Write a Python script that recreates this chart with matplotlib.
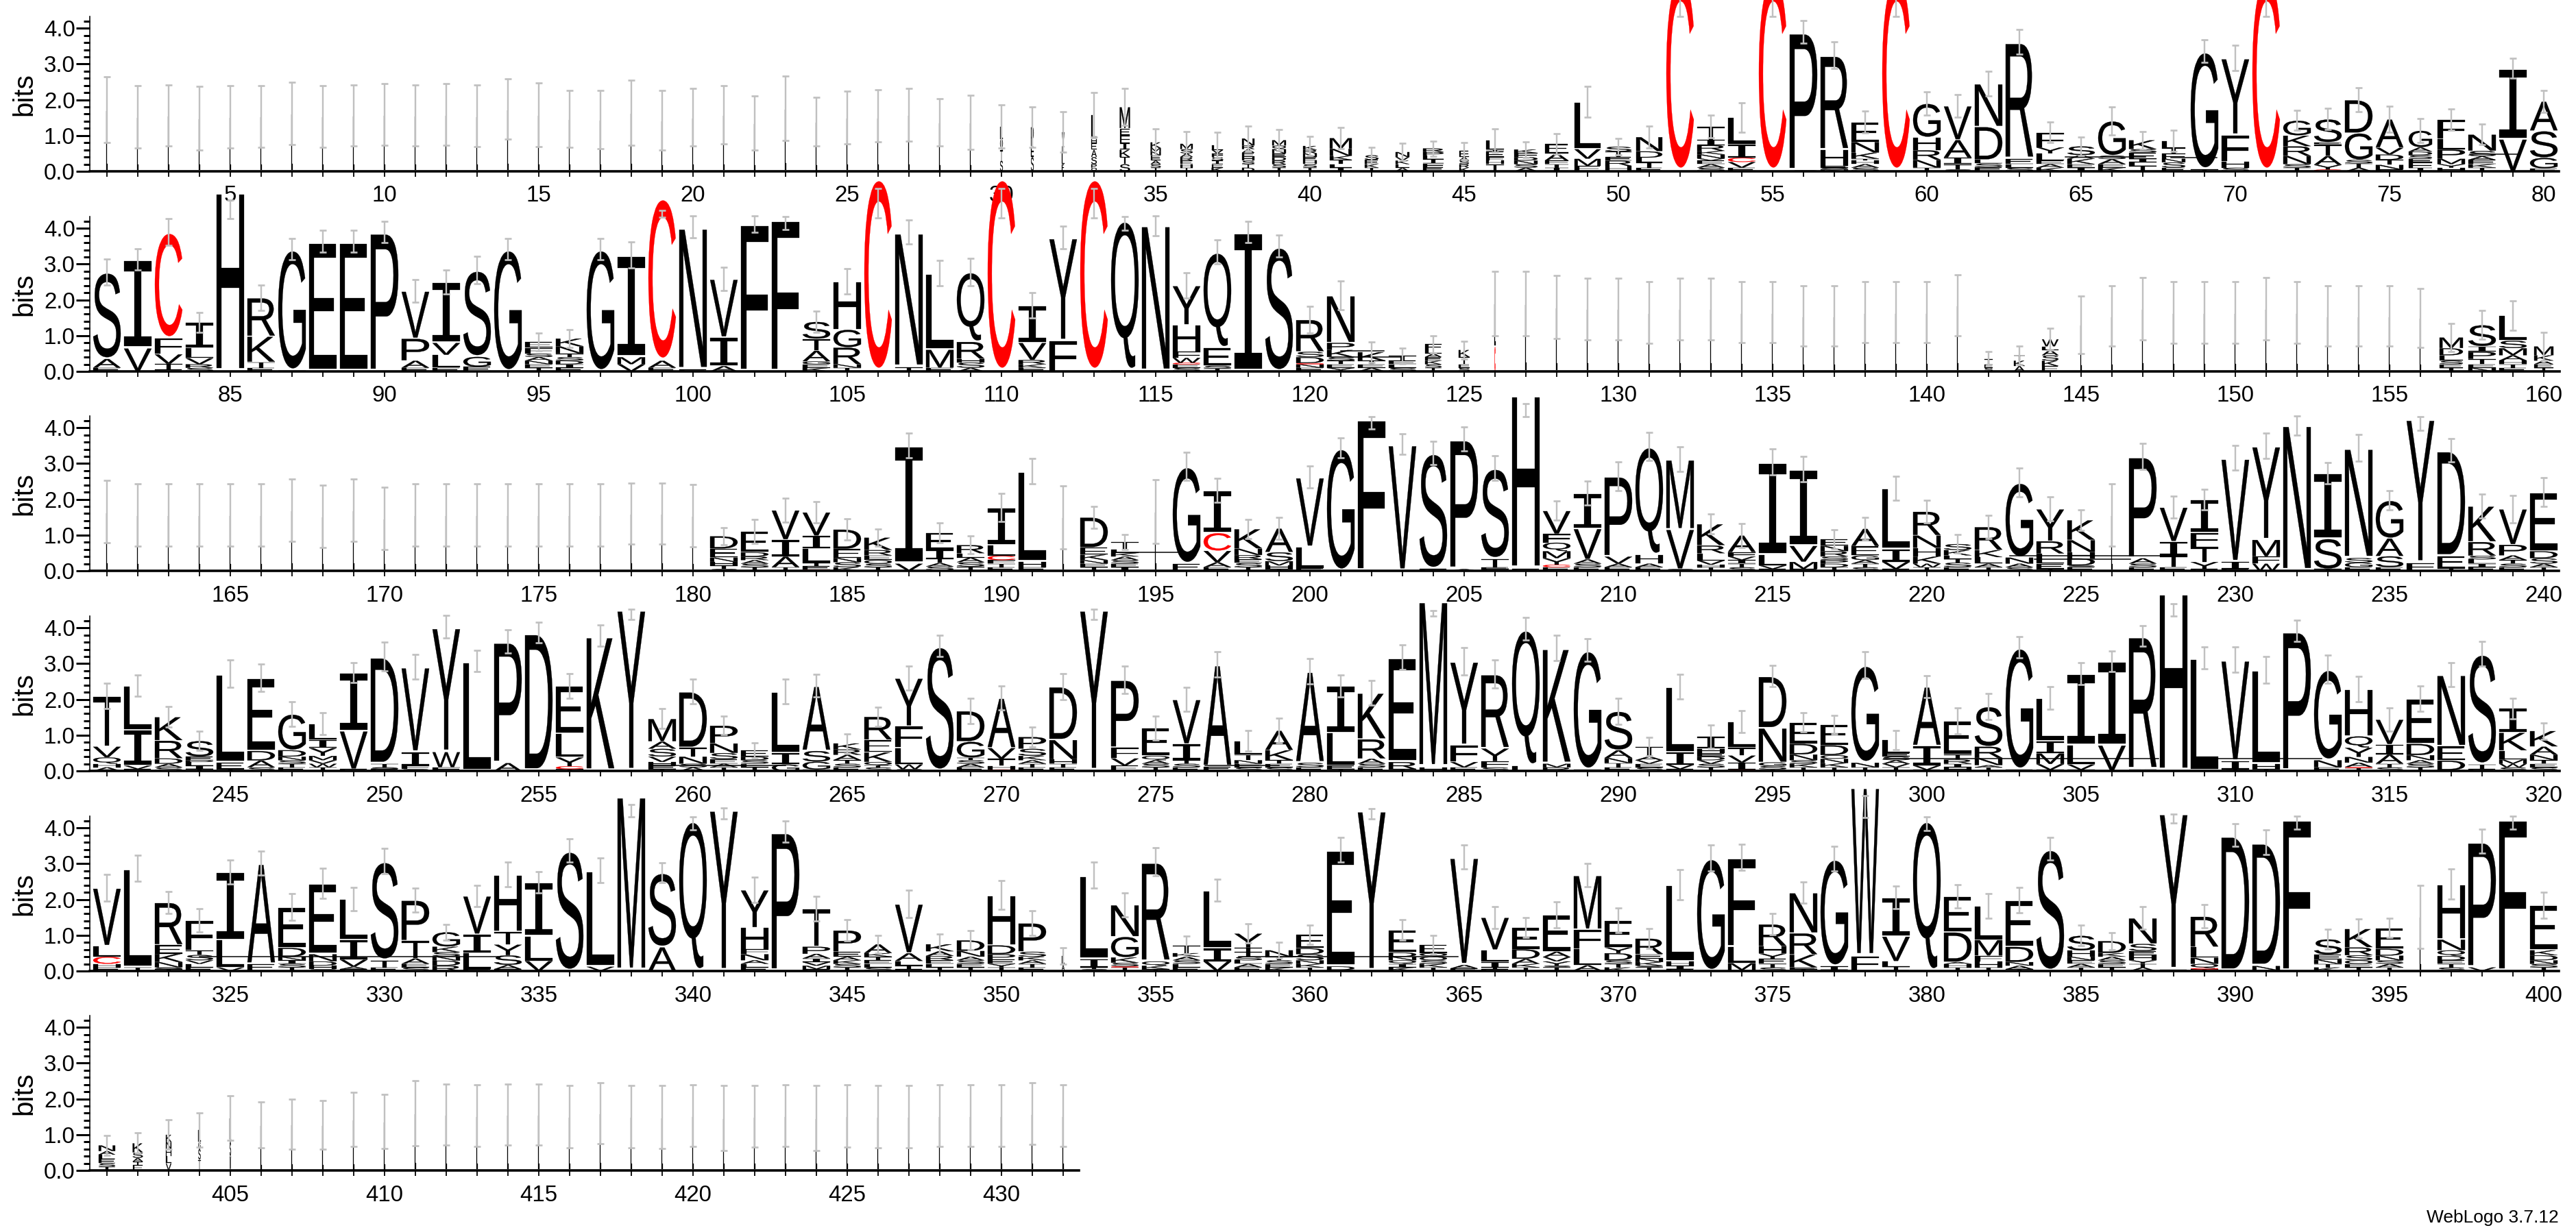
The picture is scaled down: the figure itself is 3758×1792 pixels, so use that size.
import matplotlib
matplotlib.use('Agg')
import matplotlib.pyplot as plt
from matplotlib.font_manager import FontProperties
from matplotlib.patches import PathPatch
from matplotlib.textpath import TextPath
from matplotlib.transforms import Affine2D

plt.rcParams['font.family'] = ['Liberation Sans', 'DejaVu Sans']

# ===== DATA: each stack is written bottom to top, letter + height in bits =====
stacks_1 = [
    'L1.72', 'L1.52', 'L1.56', 'L1.49', 'L1.52', 'L1.54', 'L1.62', 'L1.54', 'L1.56', 'L1.59',
    'L1.56', 'L1.59', 'L1.55', 'L1.74', 'L1.58', 'L1.47', 'L1.45', 'L1.64', 'L1.43', 'L1.51',
    'L1.58', 'L1.35', 'L1.76', 'L1.39', 'L1.51', 'L1.5 C.05', 'L1.58', 'L1.37', 'L1.37', 'S.3 T.3 Q.3 L.36',
    'S.4 E.3 P.54', 'E.2 L.3 K.2 V.4', 'Q.1 P.1 S.2 A.2 E.2 H.1 L.68', 'S.2 T.2 K.2 I.2 F.2 E.2 M.6',
    'T.1 S.1 A.1 E.15 N.1 M.1 K.16', 'T.1 H.1 E.1 R.1 A.1 S.12 M.15', 'K.1 E.1 I.1 S.1 F.1 V.1 L.14',
    'D.1 T.1 S.1 H.1 E.12 A.1 R.1 N.2', 'T.1 S.1 R.1 D.1 E.1 N.12 Q.1 M.15', 'T.1 S.1 H.1 E.1 N.1 R.1 K.11',
    'I.1 L.1 T.12 K.11 N.2 M.3', 'T.1 K.1 E.12 S.13', 'A.1 L.1 K.1 V.1 N.14', 'E.12 F.1 I.12 L.1 P.1 R.1',
    'K.1 R.1 S.1 A.1 E.17', 'T.2 H.1 F.1 E.15 I.05 L.26', 'A.1 S.1 N.1 D.1 F.11 K.1', 'I.1 T.1 F.1 A.2 E.27',
    'E.15 M.2 V.27 L1.33', 'H.15 R.15 E.1 T.15 S.14',
    'E.1 T.15 L.13 D.18 N.4', 'C5.42', 'S.1 A.1 E.1 V.06 N.11 K.1 R.16 I.15 T.37', 'E.1 V.16 C.12 I.38 L.75',
    'C5.42', 'E.02 P3.88', 'N.05 S.05 E.05 H.45 R2.65', 'S.1 A.1 H.1 T.05 K.17 N.3 E.56', 'C5.42',
    'T.1 N.22 R.27 H.36 G.95',
    'S.05 T.15 I.18 A.5 V.95', 'E.12 S.1 L.1 D.93 N1.2', 'S.1 L.1 E.15 R3.27', 'K.1 A.1 E.1 L.2 Y.17 F.42',
    'I.1 E.1 K.15 A.1 S.25', 'K.1 E.1 A.14 S.1 G.97', 'T.15 L.1 I.1 E.17 S.1 K.25', 'E.1 S.15 N.1 F.15 T.15 L.2',
    'T.05 G3.31', 'S.1 H.18 F.74 Y2.15',
    'C5.42', 'T.1 S.1 N.23 R.27 K.3 G.42', 'C.05 Y.13 A.25 T.33 E.05 S.65', 'A.1 T.12 S.1 G.75 D.93',
    'E.05 N.13 T.14 D.15 V.19 A.8', 'I.1 F.15 E.1 S.1 D.1 A.12 G.47', 'H.1 Y.1 M.15 P.26 L.3 F.53',
    'T.1 K.1 E.12 A.1 S.15 N.46', 'V.9 I1.98', 'E.08 G.3 S.75 A.83',
]
errs_1 = [
    .92, .87, .85, .89, .87, .86, .87, .86, .85, .86,
    .85, .86, .86, .84, .89, .8, .81, .91, .83, .8,
    .82, .76, .9, .68, .74, .73, .74, .66, .76, .6,
    .57, .57, .62, .52, .38, .35, .35, .34, .29, .26,
    .29, .22, .24, .21, .24, .32, .22, .29, .43, .23,
    .31, .38, .32, .41, .38, .31, .37, .31, .38, .32,
    .31, .35, .34, .28, .25, .4, .25, .3, .31, .35,
    .38, .28, .3, .34, .36, .33, .3, .29, .28, .31,
]

stacks_2 = [
    'E.1 A.25 S2.43', 'V.65 I2.48', 'E.05 T.16 V.27 F.45 C2.97', 'S.1 R.1 V.17 L.28 I.72', 'H5.04',
    'E.1 T.16 K.72 R1.08', 'T.02 G3.4', 'E3.64', 'E3.64', 'P3.9',
    'E.1 A.2 P.62 V1.33', 'E.1 L.36 V.34 I1.7', 'E.13 G.28 S2.42', 'G3.42', 'T.1 E.1 N.1 A.1 S.1 F.16 E.17',
    'E.1 I.1 D.1 S.1 T.1 N.2 K.22', 'G3.42', 'V.2 M.2 I2.86', 'E.1 A.2 C4.57', 'E.05 N3.99',
    'A.15 I.8 V1.64', 'F4.15', 'F4.27', 'K.1 E.1 G.08 A.3 T.33 S.48', 'T.1 N.1 R.47 G.5 H1.35',
    'C5.42', 'T.12 N3.78', 'E.1 M.51 L2.14', 'A.1 S.15 H.1 R.48 Q1.95', 'C5.42',
    'E.1 K.1 R.12 V.48 I1.05', 'F.86 Y2.89', 'C5.42', 'T.02 Q4.22', 'N4.11',
    'S.1 E.1 C.04 W.14 F.17 H.75 Y1.1', 'T.08 S.08 E.5 Q2.68', 'I3.9', 'S3.5', 'E.1 N.1 C.03 D.17 S.15 R.9',
    'Y.1 E.1 T.1 S.1 K.2 P.2 N1.32', 'A.1 E.1 T.1 K.24', 'S.1 L.1 E.1 T.14', 'T.1 S.1 K.1 E.1 A.1 L.1 F.16', 'S.1 E.1 T.2 K.2',
    'C.7 L1.2', 'L1.9', 'L1.8', 'L1.75', 'L1.75',
    'L1.65', 'L1.75', 'L1.75', 'L1.65', 'L1.65',
    'L1.55', 'L1.55', 'L1.65', 'L1.65', 'L1.65',
    'L1.85', 'S.1 E.1 T.15', 'A.15 K.15 T.15', 'E.15 K.15 S.15 A.15 L.1 W.2', 'L1.3',
    'L1.55', 'L1.75', 'L1.65', 'L1.65', 'L1.65',
    'L1.75', 'L1.65', 'L1.55', 'L1.55', 'L1.55',
    'L1.5', 'T.1 E.1 S.1 L.15 D.2 M.3', 'N.1 E.1 T.15 P.2 I.15 S.6', 'E.1 T.1 H.1 A.15 M.2 S.21 L.7', 'T.1 E.1 A.1 K.15 M.25',
]
errs_2 = [
    .37, .3, .38, .28, .26, .35, .3, .3, .3, .3,
    .31, .33, .38, .3, .25, .25, .3, .37, .1, .31,
    .32, .23, .18, .29, .35, .41, .33, .36, .38, .41,
    .35, .32, .41, .19, .27, .35, .34, .3, .31, .37,
    .4, .29, .22, .24, .25, .9, .9, .88, .86, .86,
    .86, .86, .86, .85, .85, .85, .85, .85, .85, .85,
    .85, .2, .25, .3, .8, .85, .87, .86, .86, .86,
    .87, .86, .85, .85, .85, .82, .4, .4, .42, .4,
]

stacks_3 = [
    'L1.65', 'L1.56', 'L1.56', 'L1.56', 'L1.56', 'L1.56', 'L1.7', 'L1.53', 'L1.7', 'L1.47',
    'L1.56', 'L1.56', 'L1.56', 'L1.56', 'L1.56', 'L1.56', 'L1.56', 'L1.6', 'L1.6', 'L1.55',
    'S.05 T.1 H.1 N.12 E.25 D.35', 'T.1 S.1 A.1 R.1 D.12 E.58', 'T.1 A.3 I.47 V.83', 'C.03 E.1 T.1 L.4 I.35 V.66',
    'K.1 S.14 N.12 E.25 D.55', 'T.1 S.1 O.1 E.13 R.15 K.35', 'V.2 I3.31', 'C.02 S.1 A.1 T.12 I.25 E.48',
    'T.12 S.12 A.13 L.12 R.23', 'E.1 T.1 F.1 C.12 L.3 I1.05',
    'E.1 H.15 L2.54', 'L1.5', 'T.1 E.1 N.1 K.15 E.2 D.85', 'I.1 E.1 S.1 A.1 K.1 L.1 T.21', 'L1.66',
    'E.2 G2.72', 'E.1 A.14 V.32 C.5 I1.19', 'T.1 S.12 E.1 R.12 N.18 K.55', 'T.05 H.1 M.12 S.25 A.67', 'E.07 L.6 V1.95',
    'G3.44', 'F4.26', 'V3.55', 'E.05 S3.25', 'A.05 P3.64',
    'F.05 E.05 T.24 S2.53', 'E.05 H4.9', 'E.1 C.07 Y.18 M.2 Q.24 F.24 V.65', 'E.1 S.1 A.12 V.86 I.99', 'E.1 A.1 V.2 P2.25',
    'E.1 A.1 H.25 Q3.03', 'S.05 V1.11 M1.96', 'T.1 H.07 V.12 L.2 R.22 K.6', 'S.1 T.1 I.1 V.1 F.12 A.47', 'E.05 V.1 L.3 I2.6',
    'E.05 M.2 V.45 I2.14', 'T.1 D.1 P.1 S.1 R.15 N.15 E.18', 'S.1 T.1 A.1 G.13 E.26 A.49', 'E.05 V.2 I.36 L1.7', 'T.1 W.1 K.2 H.24 N.35 R.67',
    'E.1 S.13 T.1 L.1 K.15 S.17', 'T.1 A.1 L.18 K.2 R.65', 'S.1 A.1 N.17 G2.1', 'T.05 E.15 L.28 R.35 Y.9', 'E.1 S.05 D.2 H.17 N.34 K.56',
    'L1.56', 'E.1 S.1 A.15 P2.85', 'E.1 T.32 I.4 V.96', 'E.05 Y.2 T.42 F.4 I.92', 'E.05 I.2 V2.91',
    'W.2 F.2 M.47 Y2.63', 'N4.1', 'T.05 S.85 I1.83', 'E.1 G.13 S.13 N3.08', 'E.1 S.31 A.5 G1.06',
    'F.22 Y4.05', 'T.07 E.34 D2.96', 'E.1 I.1 L.12 S.1 R.39 K1.0', 'E.1 S.1 T.1 A.13 P.3 V1.0', 'T.1 A.1 S.15 D.2 E1.65',
]
errs_3 = [
    .87, .87, .87, .87, .87, .87, .87, .87, .87, .87,
    .87, .87, .87, .87, .87, .87, .87, .86, .86, .87,
    .24, .33, .34, .29, .29, .24, .34, .28, .25, .39,
    .35, .88, .31, .21, .89, .39, .34, .27, .3, .31,
    .28, .17, .29, .33, .33, .34, .18, .27, .33, .4,
    .39, .34, .28, .34, .36, .35, .26, .32, .34, .31,
    .26, .33, .41, .34, .29, .87, .37, .3, .29, .34,
    .36, .26, .29, .37, .27, .19, .33, .34, .38, .4,
]

stacks_4 = [
    'A.1 H.1 Q.18 V.3 T1.42', 'E.05 V.1 I1.0 L1.23', 'S.1 A.1 D.15 R.5 K.66', 'T.05 I.1 L.1 D.05 E.1 S.44', 'T.05 E.18 L2.49',
    'S.1 A.19 D.27 E2.04', 'E.1 T.1 S.1 N.1 D.18 G1.01', 'T.1 W.1 V.1 M.12 Y.22 I.23 L.45', 'E.05 V1.07 I1.63', 'E.05 S.05 T.1 D3.0',
    'S.05 F.1 I.38 V2.38', 'F.1 W.43 Y3.5', 'L3.07', 'A.22 P3.4', 'D3.87',
    'T.05 C.08 Y.25 L.67 E1.33', 'K3.78', 'Y4.54', 'T.05 E.1 H.1 V.15 S.22 A.2 M.64', 'A.1 S.1 N.2 T.25 D1.57',
    'T.1 A.1 E.13 S.17 N.27 P.5', 'T.1 L.1 S.1 D.1 E.17', 'G.18 I.33 L1.71', 'T.04 G.22 S.3 A1.82', 'E.1 S.1 T.1 A.15 R.15 K.17',
    'S.1 T.05 Q.1 K.27 E.35 R.65', 'S.05 W.13 L.47 F.6 Y1.35', 'S3.5', 'E.1 A.1 S.1 T.07 G.45 D.86', 'C.04 H.1 T.2 V.3 A1.4',
    'E.1 T.1 A.1 K.12 S.2 P.33', 'E.1 T.1 H.12 N.55 D1.49', 'Y4.54', 'E.15 V.2 F.3 P1.9', 'T.1 S.1 A.1 Q.12 E.78',
    'E.1 S.1 T.1 I.45 V1.25', 'E.12 A2.86', 'S.1 E.1 N.1 T.15 L.39', 'S.1 E.1 T.1 K.28 A.55', 'E.1 S.13 A2.56',
    'T.05 E.1 L.92 I1.31', 'E.1 S.1 A.14 R.55 K1.29', 'T.05 R.2 E2.93', 'H.1 M4.68', 'E.1 V.15 F.47 Y2.35',
    'S.1 F.17 Y.36 R2.08', 'L.14 Q3.83', 'R.1 M.1 K3.24', 'T.03 G3.35', 'E.1 T.12 N.14 A.22 S1.09',
    'S.1 E.1 V.1 A.1 T.28', 'E.05 V.12 I.35 L1.84', 'T.1 S.1 V.1 D.1 E.1 H.12 I.34', 'C.03 I.2 V.2 T.22 L.73', 'T.04 S.1 G.1 N.96 D1.45',
    'T.1 K.1 S.1 N.16 D.3 E.6', 'T.1 K.12 N.12 O.1 D.28 E.58', 'T.1 N.13 G2.73', 'T.1 V.1 A.1 S.1 E.1 L.36', 'E.03 V.12 I.55 A1.66',
    'H.1 I.1 R.12 T.14 E.94', 'T.1 A.06 N.2 R.32 S1.12', 'E.03 G3.43', 'T.03 V.16 M.3 I.34 L1.21', 'T.03 V.15 L.54 I2.0',
    'V.72 I2.35', 'T.04 R3.74', 'H5.0', 'L3.16', 'E.02 T.03 I.22 V2.84',
    'T.05 H.15 L2.63', 'P3.92', 'E.1 N.2 G2.54', 'T.08 C.03 A.12 N.16 Y.26 Q.32 H1.32', 'S.1 T.1 A.26 I.28 V.7',
    'T.1 S.1 A.1 N.14 D.32 E1.26', 'T.02 D.27 E.4 N2.0', 'E.05 T.13 S3.1', 'S.1 W.1 M.12 L.25 K.5 I.68', 'S.1 E.1 T.1 N.15 A.23 K.44',
]
errs_4 = [
    .36, .3, .29, .27, .38, .38, .35, .3, .28, .4,
    .34, .32, .3, .33, .29, .34, .3, .15, .28, .35,
    .26, .21, .35, .32, .27, .27, .33, .3, .35, .34,
    .28, .36, .15, .39, .34, .33, .35, .29, .34, .35,
    .31, .34, .34, .08, .38, .39, .32, .35, .31, .36,
    .26, .34, .33, .31, .3, .27, .26, .37, .27, .31,
    .36, .36, .29, .32, .31, .29, .29, .18, .3, .36,
    .37, .29, .39, .35, .33, .35, .34, .34, .29, .23,
]

stacks_5 = [
    'E.1 H.1 C.2 L.3 V1.63', 'T.1 L2.77', 'T.05 S.05 N.15 K.23 E.25 R1.19', 'E.1 L.1 V.1 S.15 T.12 F.85', 'V.1 L.77 I1.9',
    'E.19 A2.83', 'T.1 S.1 I.1 N.1 D.25 E1.14', 'S.05 H.1 D.12 N.2 E1.98', 'E.05 A.07 V.2 I.55 L1.14', 'E.1 T.2 S2.77',
    'S.1 E.1 A.15 T.5 P1.13', 'R.15 D.14 N.12 S.12 K.15 G.41', 'E.05 L.45 I.53 V1.07', 'E.05 A.12 S.27 Y.3 T.36 H1.6', 'V.28 L.7 I1.5',
    'S3.37', 'V.12 L2.7', 'M4.92', 'A.67 S2.08', 'Q4.22',
    'Y4.54', 'E.1 L.1 A.1 N.17 F.14 H.6 Y1.06', 'P3.9', 'E.05 M.1 V.1 I.1 A.13 P.2 T1.06', 'T.1 S.1 K.1 A.1 E.14 P.6',
    'S.1 L.1 E.1 T.1 K.1 A.25', 'E.05 T.1 L.13 A.22 V1.38', 'T.1 L.1 E.1 R.12 A.13 K.2', 'T.1 E.1 S.1 A.1 N.16 D.3', 'T.1 Y.1 E.12 P.15 D.25 H1.4',
    'E.1 T.1 A.1 K.1 S.14 P.8', 'A.2 L.23', 'S.05 T.05 I.23 L2.35', 'T.1 C.03 S.1 K.15 G.58 N.89', 'T.05 K.1 Q.12 R2.78',
    'E.1 L.1 S.1 A.1 K.1 T.22', 'V.27 I.36 L1.63', 'E.1 A.1 L.1 S.1 T.13 T.12 Y.4', 'K.1 E.1 S.1 T.1 N.18', 'T.1 K.1 N.1 S.17 D.17 E.38',
    'T.03 D.1 E3.26', 'Y4.52', 'K.1 I.1 Q.1 N.1 D.12 E.63', 'T.1 K.1 S.1 O.1 Q.1 E.23', 'E.07 A.1 V3.02',
    'E.05 T.05 I.16 L.33 V.91', 'T.1 K.1 A.14 D.27 E.6', 'T.1 S.05 Y.12 V.12 A.15 E1.03', 'T.02 A.14 L.46 F.54 M1.52', 'K.1 T.1 S.1 D.2 Y.16 E.76',
    'T.1 S.05 K.1 N.1 E.12 R.44', 'E.05 I.1 H.12 L2.14', 'G3.16', 'T.02 M.2 L.46 F2.5', 'S.1 T.1 E.14 Y.15 H.2 R.62',
    'T.05 E.05 K.36 R.6 N1.13', 'E.03 I.1 G3.01', 'F.41 W4.77', 'E.02 T.1 L.15 V.7 I1.09', 'Q4.22',
    'T.1 H.1 A.05 D.84 E1.0', 'T.1 H.17 F.16 M.44 L.95', 'T.05 A.1 N.1 D.43 E1.3', 'S3.42', 'T.1 A.1 E.1 N.1 H.17 S.42',
    'T.1 E.1 S.1 A.1 K.1 D.34', 'A.1 T.1 Y.1 H.14 E.12 S.2 N.72', 'E.03 Y4.41', 'T.05 C.03 Q.12 N.17 L.3 R.86', 'D3.8',
    'E.02 N.12 D3.46', 'F4.27', 'K.1 T.1 N.12 E.14 S.43', 'T.1 E.1 O.1 S.14 R.22 K.52', 'T.1 A.1 S.1 N.13 D.19 E.58',
    'L1.52', 'S.1 T.1 E.1 D.12 Q.16 N.3 H1.55', 'V.1 P3.53', 'F4.27', 'T.1 S.1 N.1 D.14 K.14 E1.26',
]
errs_5 = [
    .37, .36, .31, .33, .33, .34, .38, .42, .33, .35,
    .34, .22, .29, .35, .29, .33, .34, .17, .28, .18,
    .15, .35, .29, .35, .3, .25, .38, .28, .27, .4,
    .34, .23, .36, .33, .39, .25, .31, .27, .22, .27,
    .34, .14, .29, .26, .34, .31, .28, .36, .33, .34,
    .27, .42, .36, .36, .3, .3, .35, .3, .32, .19,
    .33, .34, .36, .31, .29, .24, .32, .12, .32, .31,
    .34, .18, .27, .27, .27, .88, .42, .33, .18, .37,
]

stacks_6 = [
    'T.1 S.1 E.12 L.12 A.1 N.16', 'E.15 T.1 A.1 S.15 K.26', 'V.2 L.2 H.2 N.2 K.2', 'T.3 S.3 G.2 L.33', 'V.4 S.4 L.66',
    'L1.27', 'L1.29', 'L1.28', 'L1.43', 'L1.37',
    'L1.6', 'L1.56', 'L1.53', 'L1.56', 'L1.56',
    'L1.5', 'L1.6', 'L1.5', 'L1.49', 'L1.53',
    'L1.46', 'L1.51', 'L1.53', 'L1.46', 'L1.52',
    'L1.5', 'L1.5', 'L1.53', 'L1.53', 'L1.53', 'L1.59', 'L1.53',
]
errs_6 = [
    .27, .29, .41, .48, .62, .64, .7, .68, .75, .75,
    .91, .85, .86, .85, .85, .87, .86, .87, .88, .86,
    .91, .86, .86, .91, .87, .87, .87, .86, .86, .86, .86, .86,
]

# positions where the error bar is not centred on the top of the stack
bar_mid = {
    52: 4.7, 55: 4.7, 59: 4.7, 71: 4.7, 85: 4.53, 99: 4.41, 102: 4.11, 103: 4.15, 106: 4.7,
    110: 4.7, 113: 4.7, 114: 4.13, 115: 4.07, 202: 4.14, 207: 4.49, 232: 4.06, 236: 4.12,
    258: 4.38, 273: 4.38, 284: 4.4, 308: 4.5, 338: 4.48, 340: 4.13, 341: 4.4, 362: 4.4,
    378: 4.6, 380: 4.12, 388: 4.26, 392: 4.14, 399: 4.14,
}

# stack widths, as a share of the full width (low occupancy columns)
thin_positions = (
    list(range(1, 30)) + list(range(126, 142)) + list(range(145, 157)) + list(range(161, 181))
    + [192, 195, 226, 396] + list(range(406, 433))
)
column_width = {
    30: .1, 31: .1, 32: .08, 33: .2, 34: .37, 35: .37, 36: .45, 37: .42, 38: .45, 39: .5,
    40: .5, 41: .8, 42: .5, 43: .5, 44: .75, 45: .35, 46: .65, 47: .85, 48: .85, 49: .95,
    50: .95, 51: .95, 68: .85, 76: .85, 124: .6, 125: .4, 142: .3, 143: .4, 144: .6, 157: .85,
    160: .7, 352: .1, 401: .6, 402: .37, 403: .2, 404: .08, 405: .05,
}

# hairlines left by nearly flat letters: first position, last position, bits
flat_letters = [
    (64.5, 67.1, .40), (67.9, 69.4, .39), (77.6, 79.2, .48), (120.7, 123, .4), (121, 122.4, .57),
    (193.7, 195.8, .51), (222.7, 227.8, .43), (223.5, 226.6, .32), (258.6, 263, .15), (276.6, 279, .15),
    (298.6, 307.5, .35), (308.6, 312.8, .35), (324, 333.7, .4), (357.7, 360, .4), (359.3, 364.8, .4),
]

rows = [stacks_1, stacks_2, stacks_3, stacks_4, stacks_5, stacks_6]
row_errs = [errs_1, errs_2, errs_3, errs_4, errs_5, errs_6]
first_positions = [1, 81, 161, 241, 321, 401]
y_ticks = [0, 1, 2, 3, 4]

# ===== FIGURE =====
W, H = 3758, 1792
DPI = 100
PX = 72 / DPI
baselines = [250, 542, 833, 1125, 1417, 1708]
BITS_PX = 52.2
Y_MAX = 4.32
FULL_WIDTH = 0.89

sans = FontProperties(family='Liberation Sans')
mono = FontProperties(family='Liberation Mono')  # the I has serifs in the logo
glyphs = {}


def get_glyph(ch):
    if ch not in glyphs:
        glyphs[ch] = TextPath((0, 0), ch, size=1, prop=mono if ch == 'I' else sans)
    return glyphs[ch]


def draw_stack(ax, x, stack, width):
    y = 0
    for tok in stack.split():
        ch, h = tok[0], float(tok[1:])
        glyph = get_glyph(ch)
        bb = glyph.get_extents()
        tr = (Affine2D().translate(-bb.x0, -bb.y0)
              .scale(width / bb.width, 0.96 * h / bb.height)
              .translate(x - width / 2, y + 0.02 * h))
        color = '#ff0000' if ch == 'C' else 'black'
        ax.add_patch(PathPatch(tr.transform_path(glyph), fc=color, ec=color, lw=0.2,
                               clip_on=False, zorder=2))
        y += h
    return y


fig = plt.figure(figsize=(W / DPI, H / DPI), dpi=DPI, facecolor='white')

for stacks, errs, first, base in zip(rows, row_errs, first_positions, baselines):
    assert len(stacks) == len(errs), first
    ax = fig.add_axes([131 / W, (H - base) / H, 3602.5 / W, Y_MAX * BITS_PX / H])
    ax.patch.set_visible(False)
    ax.set_xlim(first - 25 / 45, first + 79.5)
    ax.set_ylim(0, Y_MAX)

    xs, mids = [], []
    for i, (stack, err) in enumerate(zip(stacks, errs)):
        pos = first + i
        share = 0.03 if pos in thin_positions else column_width.get(pos, 1)
        total = draw_stack(ax, pos, stack, share * FULL_WIDTH)
        xs.append(pos)
        mids.append(bar_mid.get(pos, total))

    for x0, x1, bits in flat_letters:
        if first <= x0 < first + 80:
            ax.plot([x0, x1], [bits, bits], color='black', lw=1.5 * PX, clip_on=False, zorder=2)

    bars = ax.errorbar(xs, mids, yerr=errs, fmt='none', ecolor='#c0c0c0',
                       elinewidth=2.4 * PX, capsize=5 * PX, capthick=2.7 * PX, zorder=3)
    for part in list(bars[1]) + list(bars[2]):
        part.set_clip_on(False)

    last = first + len(stacks) - 1
    for side in ['top', 'right']:
        ax.spines[side].set_visible(False)
    ax.spines['left'].set_linewidth(1.6 * PX)
    ax.spines['bottom'].set_linewidth(3.6 * PX)
    ax.spines['bottom'].set_bounds(first - 25 / 45, last + 0.5)

    labelled = [p for p in range(first, last + 1) if p % 5 == 0]
    ax.set_xticks(labelled)
    ax.set_xticklabels([str(p) for p in labelled], fontsize=23.8)
    ax.set_xticks([p for p in range(first, last + 1) if p % 5], minor=True)
    ax.tick_params(axis='x', which='both', length=8 * PX, width=1.8 * PX, pad=9)

    ax.set_yticks(y_ticks)
    ax.set_yticklabels([f'{t:.1f}' for t in y_ticks], fontsize=23.8)
    ax.set_yticks([t / 5 for t in range(0, 22) if t % 5], minor=True)
    ax.tick_params(axis='y', which='major', length=20 * PX, width=3 * PX, pad=1)
    ax.tick_params(axis='y', which='minor', length=9 * PX, width=3 * PX)

    ax.set_ylabel('bits', fontsize=29)
    ax.yaxis.set_label_coords(-0.0212, 0.5)

fig.text(3733 / W, (H - 1784) / H, 'WebLogo 3.7.12', fontsize=19, ha='right', va='baseline')

fig.savefig('out.png', dpi=DPI, facecolor='white')
